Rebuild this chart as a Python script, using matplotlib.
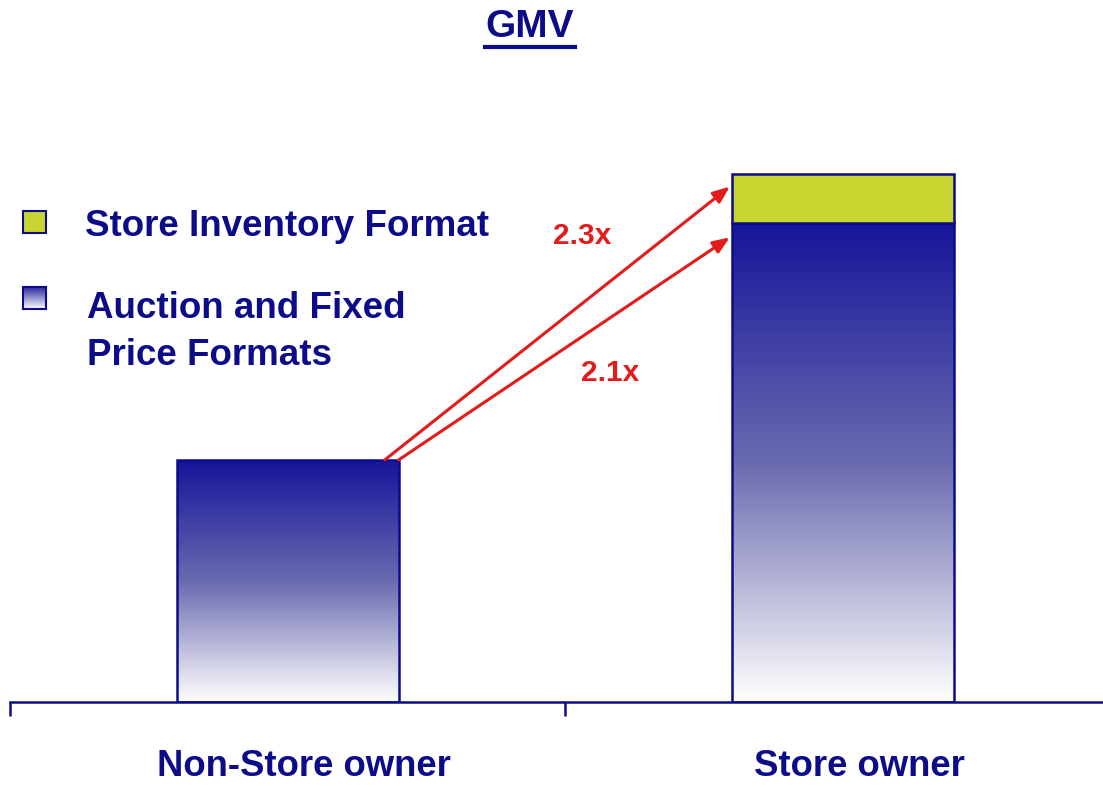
import numpy as np
import matplotlib
matplotlib.use("Agg")
import matplotlib.pyplot as plt
from matplotlib.colors import LinearSegmentedColormap
from matplotlib.patches import Rectangle
import matplotlib.transforms as mtransforms

# ---- data ----
categories = ["Non-Store owner", "Store owner"]
auction_fixed = [1.0, 1.98]
store_inventory = [0.0, 0.20]
multiples = ["2.3x", "2.1x"]
legend_labels = ["Store Inventory Format", "Auction and Fixed\nPrice Formats"]
title = "GMV"

NAVY = "#0c0c8a"
GREEN = "#c8d42f"
RED = "#e31b1b"
FONT = "Liberation Sans"

W, H = 1103, 787
fig = plt.figure(figsize=(W / 100, H / 100), dpi=100)
ax = fig.add_axes([10 / W, (H - 702) / H, (W - 10) / W, 702 / H])

grad_cmap = LinearSegmentedColormap.from_list("g", ["#ffffff", "#6a6ab0", "#15159a"])
grad = np.linspace(0, 1, 256).reshape(-1, 1)

bw = 0.40
x = np.arange(len(categories))
for i in range(len(categories)):
    a = auction_fixed[i]
    l = x[i] - bw / 2
    im = ax.imshow(grad, cmap=grad_cmap, aspect="auto", origin="lower",
                   extent=[l, l + bw, 0, a], zorder=2)
    rect = Rectangle((l, 0), bw, a, facecolor="none", edgecolor=NAVY, lw=1.8, zorder=3)
    ax.add_patch(rect)
    im.set_clip_path(rect)
    if store_inventory[i] > 0:
        ax.add_patch(Rectangle((l, a), bw, store_inventory[i], facecolor=GREEN,
                               edgecolor=NAVY, lw=1.8, zorder=3))

# arrows
ends = [auction_fixed[1] + store_inventory[1] * 0.75, auction_fixed[1] - 0.06]
starts_x = [bw / 2 - 0.025, bw / 2]
for sx, ey in zip(starts_x, ends):
    ax.annotate("", xy=(1 - bw / 2 - 0.003, ey), xytext=(sx, auction_fixed[0]),
                arrowprops=dict(arrowstyle="-|>,head_length=1.0,head_width=0.4",
                                color=RED, lw=2.2, shrinkA=0, shrinkB=0), zorder=4)
ax.text(0.5306, (702 - 236) / 242, multiples[0], color=RED, fontsize=21.5, fontweight="bold",
        family=FONT, ha="center", va="center")
ax.text(0.581, (702 - 373) / 242, multiples[1], color=RED, fontsize=21.5, fontweight="bold",
        family=FONT, ha="center", va="center")

# axis styling
for s in ["top", "right", "left"]:
    ax.spines[s].set_visible(False)
ax.spines["bottom"].set_color(NAVY)
ax.spines["bottom"].set_linewidth(1.8)
ax.set_yticks([])
ax.set_xticks([-0.5, 0.5, 1.5])
ax.set_xticklabels([])
ax.tick_params(axis="x", direction="out", length=10, width=1.8, color=NAVY)
ax.set_xlim(-0.5, (W - 10) / 555 - 0.5)
ax.set_ylim(0, 702 / 242)
trans = mtransforms.blended_transform_factory(ax.transData, fig.transFigure)
for i, c in enumerate(categories):
    ax.text(x[i] + 0.03, (H - 767) / H, c, transform=trans, ha="center", va="center",
            color=NAVY, fontsize=26.3, fontweight="bold", family=FONT)

# title
fig.text(530 / W, (H - 27) / H, title, ha="center", va="center", color=NAVY,
         fontsize=28, fontweight="bold", family=FONT)
fig.add_artist(plt.Line2D([485 / W, 575 / W], [(H - 47) / H] * 2, color=NAVY, lw=3))

# legend
fig.add_artist(Rectangle((23 / W, (H - 233) / H), 23 / W, 22 / H, facecolor=GREEN,
                         edgecolor=NAVY, lw=1.5))
lax = fig.add_axes([23 / W, (H - 309) / H, 23 / W, 22 / H])
lax.imshow(grad, cmap=LinearSegmentedColormap.from_list("l", ["#ffffff", "#2a2aa0"]),
           aspect="auto", origin="lower", extent=[0, 1, 0, 1])
lax.set_xticks([]); lax.set_yticks([])
for s in lax.spines.values():
    s.set_color(NAVY); s.set_linewidth(1.5)
fig.text(85 / W, (H - 227) / H, legend_labels[0], ha="left", va="center", color=NAVY,
         fontsize=26.5, fontweight="bold", family=FONT)
fig.text(87 / W, (H - 332) / H, legend_labels[1], ha="left", va="center", color=NAVY,
         fontsize=26.5, fontweight="bold", family=FONT, linespacing=1.42)

fig.savefig("out.png", dpi=100)
